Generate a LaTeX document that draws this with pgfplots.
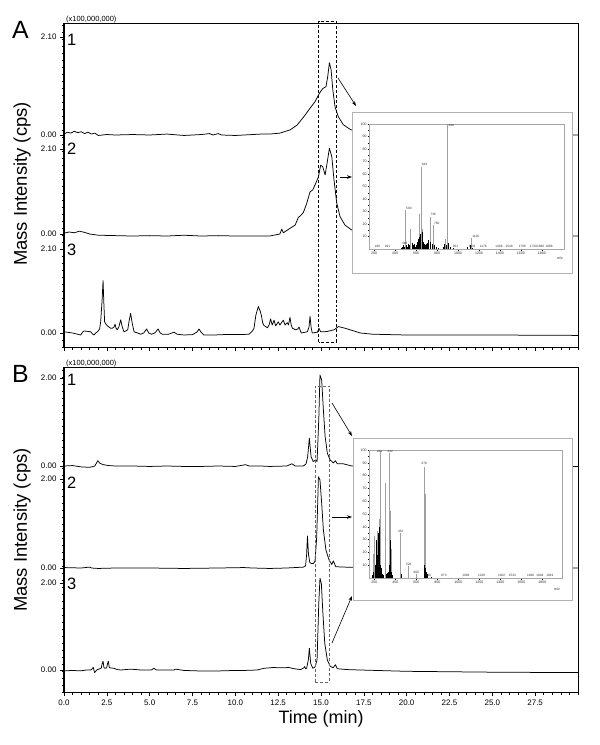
\documentclass[border=0pt]{standalone}
\usepackage{fontspec}
\setmainfont{Liberation Sans}
\usepackage{pgfplots}
\usepackage{pgfplotstable}
\pgfplotsset{compat=1.18}
\usetikzlibrary{arrows.meta}

% ---------- chromatograms (time in min, intensity in 1e8 cps) ----------
\pgfplotstableread{
t I
0 0.02
0.2 0.06
0.4 0.04
0.6 0.08
0.8 0.05
1.0 0.07
1.2 0.03
1.4 0.06
1.6 0.02
1.8 0.04
2.0 -0.01
2.5 0.01
3 0.0
4 0.01
5 0.0
6 0.02
7 -0.01
8 0.01
8.5 0.03
8.7 0.0
9 0.03
9.2 0.0
10 -0.01
10.5 0.0
11 0.01
11.5 0.02
12 0.02
12.6 0.04
13.2 0.11
13.6 0.21
14.0 0.39
14.36 0.57
14.65 0.71
14.91 0.89
15.10 0.99
15.29 1.03
15.39 1.24
15.49 1.54
15.59 1.39
15.69 0.96
15.82 0.60
16.01 0.39
16.3 0.22
16.7 0.12
17.0 0.08
17.5 0.05
18 0.03
20 0.01
30 0.0
}\Aone

\pgfplotstableread{
t I
0 0.02
0.3 0.05
0.6 0.03
0.9 0.07
1.2 0.04
1.5 0.0
2 -0.03
3 -0.04
4 -0.05
5 -0.04
6 -0.05
7 -0.03
8 -0.05
9 -0.04
10 -0.05
11 -0.05
12 -0.05
12.6 0.0
12.71 0.12
12.8 0.03
13.19 0.14
13.49 0.22
13.68 0.41
13.8 0.45
13.97 0.53
14.17 0.76
14.36 1.04
14.52 1.09
14.65 1.21
14.85 1.41
14.98 1.70
15.10 1.66
15.24 1.46
15.37 1.79
15.49 2.12
15.63 1.91
15.76 1.33
15.92 0.76
16.11 0.43
16.4 0.22
16.79 0.10
17.5 0.02
18 -0.02
30 -0.05
}\Atwo

\pgfplotstableread{
t I
0 0.03
0.5 0.0
0.97 -0.05
1.1 0.03
1.17 0.05
1.4 0.04
1.56 0.03
1.68 -0.03
1.75 -0.05
1.85 0.0
1.95 0.03
2.08 0.1
2.14 0.28
2.22 0.8
2.28 1.31
2.33 0.7
2.37 0.28
2.45 0.22
2.53 0.18
2.62 0.15
2.72 0.12
2.82 0.12
2.92 0.15
2.98 0.22
3.04 0.12
3.11 0.08
3.2 0.15
3.31 0.33
3.4 0.15
3.5 0.03
3.6 0.05
3.72 0.08
3.8 0.3
3.89 0.49
3.98 0.25
4.09 0.03
4.3 0.0
4.47 -0.03
4.65 0.0
4.82 0.1
4.95 0.0
5.1 -0.03
5.3 0.0
5.49 0.1
5.62 0.0
5.74 -0.03
6.1 -0.03
6.42 0.02
6.6 -0.03
7.0 -0.05
7.5 -0.04
7.75 0.02
7.88 0.1
8.0 0.02
8.17 -0.05
8.75 -0.05
9.3 -0.04
9.73 -0.04
10.3 -0.04
10.8 -0.03
11.0 0.05
11.09 0.12
11.2 0.45
11.34 0.66
11.45 0.55
11.52 0.44
11.6 0.25
11.67 0.19
11.87 0.13
11.97 0.2
12.06 0.35
12.15 0.2
12.26 0.32
12.35 0.18
12.45 0.24
12.51 0.28
12.6 0.2
12.7 0.26
12.80 0.32
12.9 0.2
13.03 0.26
13.1 0.2
13.19 0.39
13.26 0.2
13.33 0.12
13.52 0.08
13.65 0.1
13.72 0.15
13.8 0.05
13.85 0.0
14.2 0.03
14.3 0.15
14.36 0.42
14.42 0.15
14.49 0.0
14.79 0.02
14.88 0.12
14.98 0.03
15.2 0.03
15.37 0.04
15.76 0.08
16.02 0.16
16.4 0.12
16.7 0.08
17.3 0.0
18 -0.03
20 -0.05
25 -0.05
30 -0.06
}\Athree

\pgfplotstableread{
t I
0 0.0
0.5 0.01
1.0 -0.02
1.5 -0.03
1.8 0.0
1.97 0.12
2.1 0.06
2.3 0.03
2.6 0.01
3 0.0
4 0.0
5 -0.01
6 0.0
7 -0.01
8 -0.01
9 0.0
10 -0.01
10.6 0.03
10.8 0.0
11.5 0.0
12 -0.01
13 0.0
13.3 0.05
13.5 0.0
13.97 0.0
14.13 0.05
14.22 0.21
14.32 0.63
14.42 0.21
14.55 0.10
14.69 0.14
14.77 0.10
14.87 1.05
14.94 2.07
15.04 1.95
15.14 1.27
15.24 0.67
15.37 0.29
15.53 0.14
15.72 0.07
15.84 0.12
15.95 0.05
16.3 0.05
16.8 0.0
30 -0.01
}\Bone

\pgfplotstableread{
t I
0 0.01
1 0.0
1.5 0.02
1.6 0.0
2 -0.01
3 0.0
5 0.0
7 -0.01
9 0.0
10.5 0.01
11 0.0
12 -0.01
13 0.0
13.97 0.02
14.1 0.05
14.16 0.3
14.21 0.72
14.27 0.3
14.35 0.12
14.45 0.10
14.55 0.10
14.65 0.15
14.75 0.70
14.85 2.05
14.94 1.98
15.04 1.45
15.14 0.85
15.29 0.40
15.47 0.18
15.63 0.08
15.72 0.16
15.86 0.03
16.3 0.02
30 0.0
}\Btwo

\pgfplotstableread{
t I
0 -0.02
0.5 -0.01
0.97 -0.02
1.3 0.0
1.56 0.0
1.65 0.03
1.71 0.06
1.76 -0.02
1.79 -0.06
1.87 -0.02
1.95 0.01
2.1 0.03
2.18 0.05
2.23 0.15
2.28 0.2
2.33 0.06
2.37 0.04
2.49 0.05
2.54 0.15
2.59 0.2
2.64 0.06
2.68 0.05
2.92 0.04
3.1 0.01
3.31 0.0
3.6 0.01
3.89 0.02
4.5 0.0
5.1 0.0
5.25 0.04
5.4 0.0
6.42 0.0
6.5 0.02
7.0 -0.01
7.78 -0.02
8.5 -0.02
9.14 -0.02
10 -0.01
10.5 -0.01
11.28 0.0
11.67 0.04
12.0 0.05
12.26 0.06
12.5 0.05
12.84 0.05
13.1 0.06
13.42 0.03
13.81 0.01
14.0 0.05
14.05 0.08
14.1 0.03
14.16 0.04
14.26 0.23
14.32 0.50
14.4 0.15
14.52 0.04
14.65 0.07
14.77 0.23
14.87 1.53
14.94 2.11
15.02 1.99
15.1 1.38
15.22 0.61
15.37 0.23
15.53 0.09
15.7 0.05
15.84 0.12
15.95 0.03
16.5 0.01
17.3 0.0
20 -0.03
25 -0.05
30 -0.06
}\Bthree

% ---------- mass spectra (m/z, relative %) ----------
\pgfplotstableread{
mz p
500 31
549 16
628 28
648 66
664 16
733 26
765 19
880 8
902 100
1130 9
}\SpecA
\pgfplotstableread{
mz p
460 1
470 2
480 3
490 2
510 3
520 2
530 4
540 3
560 5
570 3
580 4
590 2
600 3
610 6
620 8
635 10
640 12
655 14
660 9
670 6
680 4
690 3
700 4
710 5
720 7
740 6
750 4
770 3
790 2
810 1
860 2
870 4
890 3
910 5
930 2
950 1
1090 2
1120 3
1140 1
}\SpecAb
\pgfplotstableread{
mz p
194 19
200 33
205 19
232 37
245 46
255 100
305 74
343 98
350 52
360 23
452 35
528 9
600 3
676 87
692 66
}\SpecB
\pgfplotstableread{
mz p
185 2
190 5
210 10
215 6
220 30
225 18
235 25
240 35
250 40
260 10
265 8
270 5
280 3
290 2
310 3
320 4
330 5
340 10
355 30
365 5
370 2
460 3
680 10
685 8
695 5
700 3
740 1
}\SpecBb

\pgfplotsset{
  chrom/.style={
    scale only axis, anchor=south west, width=514bp,
    xmin=0, xmax=30, clip=false,
    axis line style={black, line width=0.9bp},
    tick style={black, line width=0.6bp},
    tick align=outside, xtick pos=bottom, ytick pos=left,
    major tick length=4bp, minor tick length=2.5bp,
    xtick={0,2.5,5,7.5,10,12.5,15,17.5,20,22.5,25,27.5},
    minor xtick={0,0.5,...,30},
    tick label style={font=\fontsize{8}{9}\selectfont},
  },
  trace/.style={black, line width=0.75bp, line join=round},
  inset/.style={
    scale only axis, anchor=south west,
    ymin=0, ymax=100, clip=true,
    axis line style={gray!70, line width=1bp},
    tick style={black, line width=0.3bp},
    tick align=outside, xtick pos=bottom, ytick pos=left,
    major tick length=1.5bp, minor tick length=1bp,
    xtick={200,400,...,1800}, ytick={10,20,...,100},
    minor x tick num=3, minor y tick num=1,
    tick label style={font=\fontsize{3.6}{4}\selectfont, text=black!80, inner sep=0.8bp},
    /pgf/number format/1000 sep={},
    /pgf/number format/assume math mode=true,
  },
}
\tikzset{pk/.style={font=\fontsize{3.2}{3.5}\selectfont, inner sep=0.3bp, text=black!80}}

\begin{document}
\begin{tikzpicture}
\path[use as bounding box] (0,0) rectangle (600bp,-745bp);

% ---------------- Panel A ----------------
\begin{axis}[chrom, at={(64bp,-347bp)}, height=324bp, ymin=0, ymax=324,
  ytick={14,98,113,198,212,310}, yticklabels={0.00,2.10,0.00,2.10,0.00,2.10},
  minor ytick={0,7,...,322}, xticklabels={}]
\addplot[trace] table[x=t, y expr=\thisrow{I}*46.9+212] {\Aone};
\addplot[trace] table[x=t, y expr=\thisrow{I}*40.5+113] {\Atwo};
\addplot[trace] table[x=t, y expr=\thisrow{I}*40+14] {\Athree};
\draw[densely dashed, line width=0.6bp] (axis cs:14.86,5) rectangle (axis cs:15.92,326);
\draw[line width=1.8bp] (rel axis cs:0,0) -- (rel axis cs:0,1);
\end{axis}

% ---------------- Panel B ----------------
\begin{axis}[chrom, at={(64bp,-692bp)}, height=325bp, ymin=0, ymax=325,
  ytick={22,109,124,213,226,314}, yticklabels={0.00,2.00,0.00,2.00,0.00,2.00},
  minor ytick={0,7,...,322},
  xticklabels={0.0,2.5,5.0,7.5,10.0,12.5,15.0,17.5,20.0,22.5,25.0,27.5}]
\addplot[trace] table[x=t, y expr=\thisrow{I}*44+226] {\Bone};
\addplot[trace] table[x=t, y expr=\thisrow{I}*44.5+124] {\Btwo};
\addplot[trace] table[x=t, y expr=\thisrow{I}*43.5+22] {\Bthree};
\draw[densely dashed, line width=0.6bp, gray!80!black] (axis cs:14.65,10) rectangle (axis cs:15.49,306);
\draw[line width=1.8bp] (rel axis cs:0,0) -- (rel axis cs:0,1);
\end{axis}

% ---------------- labels ----------------
\node[anchor=base west, font=\fontsize{25}{25}\selectfont, inner sep=0] at (12bp,-38bp) {A};
\node[anchor=base west, font=\fontsize{25}{25}\selectfont, inner sep=0] at (12bp,-382bp) {B};
\node[anchor=base west, font=\fontsize{7.5}{8}\selectfont, inner sep=0] at (66bp,-21bp) {(x100,000,000)};
\node[anchor=base west, font=\fontsize{7.5}{8}\selectfont, inner sep=0] at (66bp,-365bp) {(x100,000,000)};
\foreach \n/\yy in {1/45, 2/154, 3/255, 1/385, 2/488, 3/589}
  \node[anchor=base west, font=\fontsize{16.5}{17}\selectfont, inner sep=0] at (67bp,-\yy bp) {\n};
\node[rotate=90, font=\fontsize{18.5}{19}\selectfont] at (22bp,-184bp) {Mass Intensity (cps)};
\node[rotate=90, font=\fontsize{18.5}{19}\selectfont] at (22bp,-530bp) {Mass Intensity (cps)};
\node[font=\fontsize{18}{19}\selectfont] at (321bp,-719bp) {Time (min)};

% ---------------- arrows ----------------
\begin{scope}[line width=0.6bp, -{Stealth[length=5bp,width=3.5bp]}]
\draw (338bp,-78bp) -- (356bp,-106bp);
\draw (340bp,-177bp) -- (352bp,-177bp);
\draw (332bp,-403bp) -- (352bp,-436bp);
\draw (332bp,-517bp) -- (352bp,-517bp);
\draw (332bp,-643bp) -- (352bp,-596bp);
\end{scope}

% ---------------- inset A ----------------
\draw[gray!60, line width=0.8bp, fill=white] (352bp,-112bp) rectangle (572bp,-273bp);
\begin{axis}[inset, at={(369bp,-249bp)}, width=195bp, height=125bp, xmin=152, xmax=2010]
\addplot[ycomb, gray!75, line width=0.9bp] table[x=mz, y=p] {\SpecA};
\addplot[ycomb, black, line width=0.5bp] table[x=mz, y=p] {\SpecAb};
\node[pk, anchor=north west] at (axis cs:905,100) {898};
\node[pk, anchor=south west] at (axis cs:650,66) {644};
\node[pk, anchor=south west] at (axis cs:502,31) {500};
\node[pk, anchor=south west] at (axis cs:735,26) {736};
\node[pk, anchor=south west] at (axis cs:767,19) {760};
\node[pk, anchor=south west] at (axis cs:1132,9) {1126};
\node[pk, anchor=south west] at (axis cs:463,3) {468};
\node[pk, anchor=south west] at (axis cs:203,1) {160};
\node[pk, anchor=south west] at (axis cs:298,1) {261};
\node[pk, anchor=south west] at (axis cs:946,1) {921};
\node[pk, anchor=south west] at (axis cs:1098,0.5) {1101};
\node[pk, anchor=south west] at (axis cs:1203,1) {1178};
\node[pk, anchor=south west] at (axis cs:1352,1) {1398};
\node[pk, anchor=south west] at (axis cs:1448,1) {1549};
\node[pk, anchor=south west] at (axis cs:1575,1) {1706};
\node[pk, anchor=south west] at (axis cs:1679,1) {1739};
\node[pk, anchor=south west] at (axis cs:1749,1) {1880};
\node[pk, anchor=south west] at (axis cs:1829,1) {1888};
\end{axis}
\node[font=\fontsize{3.6}{4}\selectfont, text=black!80] at (560bp,-258bp) {m/z};

% ---------------- inset B ----------------
\draw[gray!60, line width=0.8bp, fill=white] (353bp,-438bp) rectangle (572bp,-600bp);
\begin{axis}[inset, at={(369bp,-578bp)}, width=193bp, height=128bp, xmin=150, xmax=1988]
\addplot[ycomb, gray!75, line width=0.9bp] table[x=mz, y=p] {\SpecB};
\addplot[ycomb, black, line width=0.5bp] table[x=mz, y=p] {\SpecBb};
\node[pk, anchor=north] at (axis cs:250,100) {264};
\node[pk, anchor=north] at (axis cs:350,100) {340};
\node[pk, anchor=south] at (axis cs:676,88) {678};
\node[pk, anchor=south] at (axis cs:452,35) {452};
\node[pk, anchor=south] at (axis cs:528,9) {528};
\node[pk, anchor=south] at (axis cs:600,3) {600};
\node[pk, anchor=south] at (axis cs:714,1) {740};
\node[pk, anchor=south] at (axis cs:863,1) {873};
\node[pk, anchor=south] at (axis cs:1073,1) {1094};
\node[pk, anchor=south] at (axis cs:1222,1) {1220};
\node[pk, anchor=south] at (axis cs:1413,1) {1402};
\node[pk, anchor=south] at (axis cs:1515,1) {1533};
\node[pk, anchor=south] at (axis cs:1690,1) {1696};
\node[pk, anchor=south] at (axis cs:1778,1) {1804};
\node[pk, anchor=south] at (axis cs:1873,1) {1919};
\end{axis}
\node[font=\fontsize{3.6}{4}\selectfont, text=black!80] at (557bp,-589bp) {m/z};
\end{tikzpicture}
\end{document}
